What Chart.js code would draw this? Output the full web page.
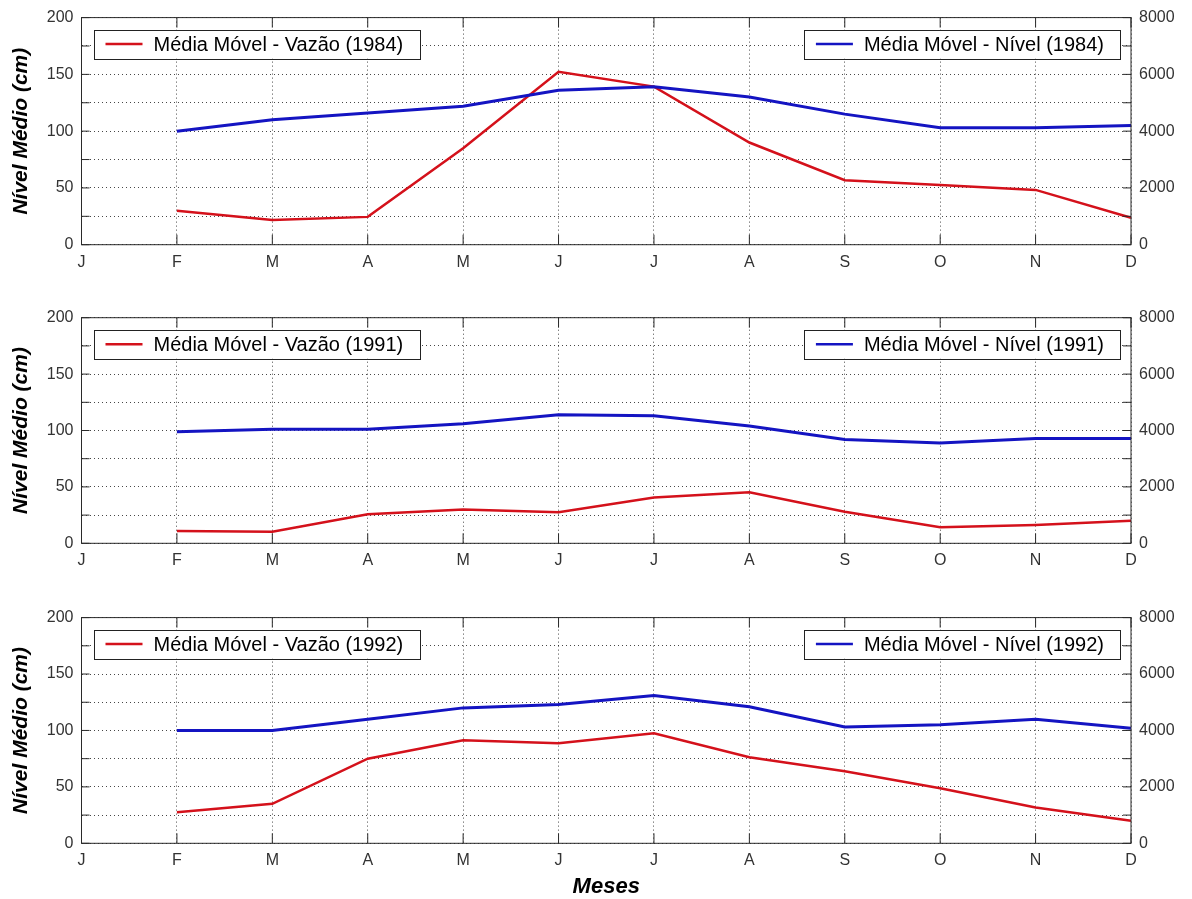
<!DOCTYPE html>
<html>
<head>
<meta charset="utf-8">
<title>Média Móvel - Vazão e Nível</title>
<script src="https://cdn.jsdelivr.net/npm/chart.js@4/dist/chart.umd.min.js"></script>
<style>
  body { margin: 0; background: #fff; }
  .panel { position: relative; width: 1192px; }
</style>
</head>
<body>
<div class="panel" style="height:300px"><canvas id="c1984"></canvas></div>
<div class="panel" style="height:300px"><canvas id="c1991"></canvas></div>
<div class="panel" style="height:299px"><canvas id="c1992"></canvas></div>
<script>
// months on the x axis (January has no moving average yet)
const months = ["J", "F", "M", "A", "M", "J", "J", "A", "S", "O", "N", "D"];

// moving average of water level (cm), left axis
const nivel1984 = [null, 100, 110, 116, 122, 136, 139, 130, 115, 103, 103, 105];
const nivel1991 = [null, 99, 101, 101, 106, 114, 113, 104, 92, 89, 93, 93];
const nivel1992 = [null, 100, 100, 110, 120, 123, 131, 121, 103, 105, 110, 102];

// moving average of discharge, right axis
const vazao1984 = [null, 1200, 870, 980, 3400, 6090, 5570, 3600, 2270, 2100, 1930, 950];
const vazao1991 = [null, 440, 410, 1030, 1200, 1100, 1620, 1810, 1120, 570, 650, 800];
const vazao1992 = [null, 1100, 1400, 3000, 3650, 3550, 3900, 3050, 2550, 1950, 1270, 800];

const FONT = '"Liberation Sans", Arial, Helvetica, sans-serif';
const RED = "#d4111b";
const BLUE = "#1414c2";
const GRID = "rgba(0,0,0,0.72)";

// legend box drawn inside the plot, one per series
function drawKey(ctx, ds, x, y, alignRight) {
    ctx.font = "20px " + FONT;
    const w = ctx.measureText(ds.label).width + 76;
    const h = 29;
    const left = alignRight ? x - w : x;
    ctx.fillStyle = "#fff";
    ctx.fillRect(left, y, w, h);
    ctx.lineWidth = 1;
    ctx.strokeStyle = "#222";
    ctx.strokeRect(Math.round(left) + 0.5, Math.round(y) + 0.5, Math.round(w), h);
    ctx.beginPath();
    ctx.strokeStyle = ds.borderColor;
    ctx.lineWidth = 2.5;
    ctx.moveTo(left + 12, y + 14.5);
    ctx.lineTo(left + 49, y + 14.5);
    ctx.stroke();
    ctx.fillStyle = "#000";
    ctx.textBaseline = "middle";
    ctx.textAlign = "left";
    ctx.fillText(ds.label, left + 60, y + 15.5);
}

// box around the plot, inward tick marks and the two legends
const framePlugin = {
    id: "frame",
    afterDraw(chart) {
        const { ctx, chartArea: a, scales } = chart;
        ctx.save();
        ctx.strokeStyle = "#2a2a2a";
        ctx.lineWidth = 1;
        ctx.setLineDash([]);
        ctx.strokeRect(a.left, a.top, a.width, a.height);
        ctx.beginPath();
        scales.x.ticks.forEach((t, i) => {
            const px = scales.x.getPixelForTick(i);
            ctx.moveTo(px, a.bottom);
            ctx.lineTo(px, a.bottom - 10);
            ctx.moveTo(px, a.top);
            ctx.lineTo(px, a.top + 10);
        });
        scales.y.ticks.forEach((t, i) => {
            const py = scales.y.getPixelForTick(i);
            ctx.moveTo(a.left, py);
            ctx.lineTo(a.left + 8, py);
        });
        scales.y1.ticks.forEach((t, i) => {
            const py = scales.y1.getPixelForTick(i);
            ctx.moveTo(a.right, py);
            ctx.lineTo(a.right - 8, py);
        });
        ctx.stroke();
        const sets = chart.data.datasets;
        drawKey(ctx, sets[0], a.left + 12, a.top + 12, false);
        drawKey(ctx, sets[1], a.right - 11, a.top + 12, true);
        ctx.restore();
    }
};

function makeChart(id, year, nivel, vazao, top, xHeight, showXTitle) {
    new Chart(document.getElementById(id), {
        type: "line",
        data: {
            labels: months,
            datasets: [{
                label: "Média Móvel - Vazão (" + year + ")",
                data: vazao,
                yAxisID: "y1",
                borderColor: RED,
                borderWidth: 2.5,
                pointRadius: 0,
                tension: 0,
                order: 1
            }, {
                label: "Média Móvel - Nível (" + year + ")",
                data: nivel,
                yAxisID: "y",
                borderColor: BLUE,
                borderWidth: 3,
                pointRadius: 0,
                tension: 0,
                order: 0
            }]
        },
        options: {
            responsive: true,
            maintainAspectRatio: false,
            animation: false,
            layout: { padding: { top: top, left: 0, right: 0, bottom: 0 } },
            plugins: { legend: { display: false }, tooltip: { enabled: false } },
            scales: {
                x: {
                    type: "category",
                    offset: false,
                    grid: { color: GRID, lineWidth: 1, drawTicks: false },
                    border: { display: false, dash: [1, 3] },
                    ticks: {
                        autoSkip: false, maxRotation: 0, padding: 8,
                        color: "#333", font: { family: FONT, size: 16 }
                    },
                    title: {
                        display: showXTitle, text: "Meses", color: "#000",
                        font: { family: FONT, size: 22, weight: "bold", style: "italic", lineHeight: 1 },
                        padding: { top: 0, bottom: 1 }
                    },
                    afterFit: s => { s.height = xHeight; }
                },
                y: {
                    position: "left",
                    min: 0, max: 200,
                    grid: { color: GRID, lineWidth: 1, drawTicks: false },
                    border: { display: false, dash: [1, 3] },
                    ticks: {
                        stepSize: 25, padding: 8, color: "#333",
                        font: { family: FONT, size: 16 },
                        callback: v => (v % 50 === 0 ? v : "")
                    },
                    title: {
                        display: true, text: "Nível Médio (cm)", color: "#000",
                        font: { family: FONT, size: 21, weight: "bold", style: "italic", lineHeight: 1 },
                        padding: { top: 11, bottom: 0 }
                    },
                    afterFit: s => { s.width = 81.5; }
                },
                y1: {
                    position: "right",
                    min: 0, max: 8000,
                    grid: { display: false, drawTicks: false },
                    border: { display: false },
                    ticks: {
                        stepSize: 1000, padding: 8, color: "#333",
                        font: { family: FONT, size: 16 },
                        callback: v => (v % 2000 === 0 ? v : "")
                    },
                    afterFit: s => { s.width = 61; }
                }
            }
        },
        plugins: [framePlugin]
    });
}

makeChart("c1984", 1984, nivel1984, vazao1984, 17.5, 55.3, false);
makeChart("c1991", 1991, nivel1991, vazao1991, 17.7, 56.7, false);
makeChart("c1992", 1992, nivel1992, vazao1992, 16.7, 55.7, true);
</script>
</body>
</html>
